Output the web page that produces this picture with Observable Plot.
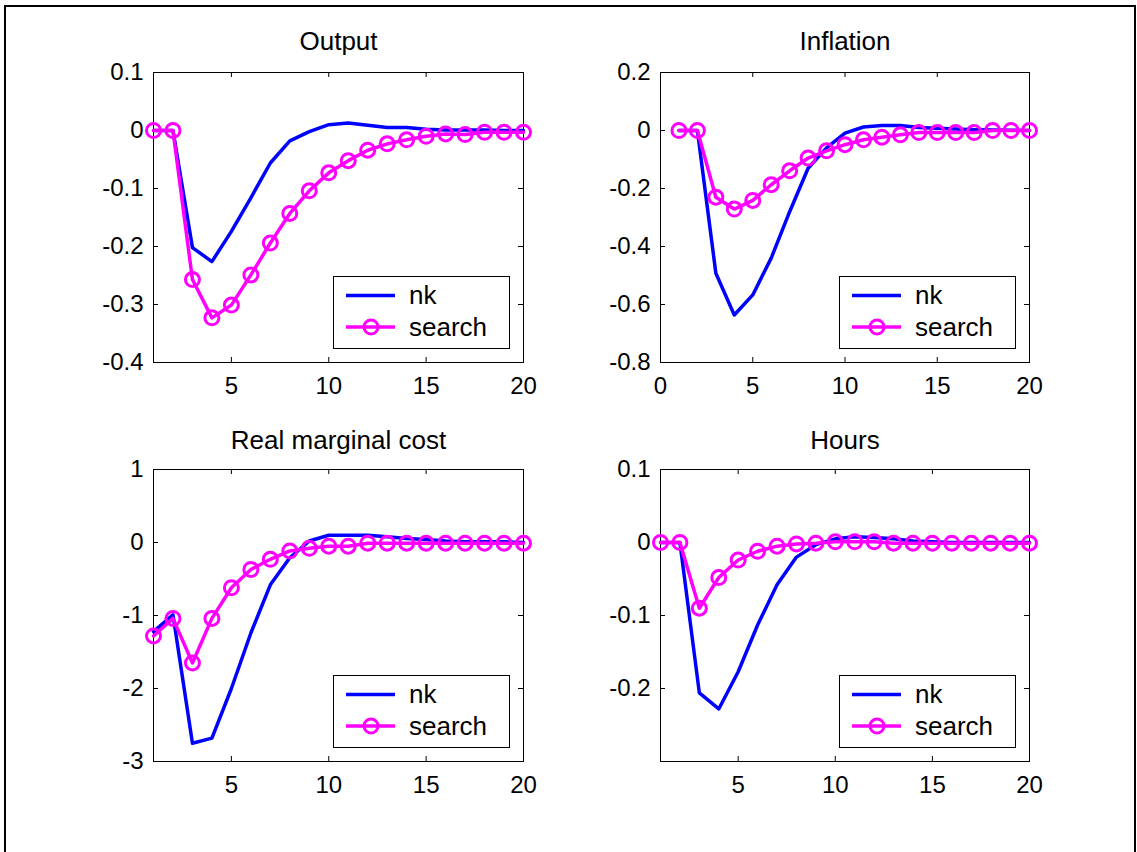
<!DOCTYPE html>
<html><head><meta charset="utf-8">
<script src="https://cdn.jsdelivr.net/npm/d3@7"></script>
<script src="https://cdn.jsdelivr.net/npm/@observablehq/plot@0.6"></script>
<style>
html,body{margin:0;padding:0;background:#fff;overflow:hidden;}
#fig{position:relative;width:1137px;height:852px;overflow:hidden;font-family:"Liberation Sans",Arial,sans-serif;}
#border{position:absolute;left:4px;top:5px;width:1132px;height:900px;border:2px solid #000;box-sizing:border-box;}
.panel,.legend{position:absolute;}
</style></head>
<body><div id="fig"><div id="border"></div></div>
<script>
// ---- data ----
const periods = [1,2,3,4,5,6,7,8,9,10,11,12,13,14,15,16,17,18,19,20];

const outputNK     = [0,0,-0.202,-0.226,-0.174,-0.116,-0.056,-0.018,-0.002,0.010,0.013,0.009,0.005,0.005,0.002,0.001,0.001,0.001,0.000,0.000];
const outputSearch = [0,0,-0.257,-0.323,-0.301,-0.249,-0.194,-0.143,-0.104,-0.073,-0.052,-0.034,-0.023,-0.016,-0.010,-0.006,-0.007,-0.003,-0.003,-0.003];

const inflationNK     = [0,0,-0.492,-0.636,-0.567,-0.44,-0.28,-0.13,-0.06,-0.009,0.012,0.017,0.017,0.010,0.008,0.005,0.003,0.002,0.001,0.000];
const inflationSearch = [0,0,-0.230,-0.271,-0.241,-0.187,-0.139,-0.095,-0.070,-0.049,-0.032,-0.023,-0.015,-0.007,-0.007,-0.007,-0.007,0.000,0.000,0.000];

const rmcNK     = [-1.22,-0.99,-2.75,-2.68,-2.00,-1.24,-0.58,-0.21,0.02,0.10,0.10,0.10,0.08,0.055,0.04,0.02,0.01,0.01,0.01,0.00];
const rmcSearch = [-1.28,-1.04,-1.65,-1.04,-0.62,-0.37,-0.23,-0.115,-0.08,-0.05,-0.05,-0.01,-0.01,-0.01,-0.01,-0.01,-0.01,-0.01,-0.01,-0.01];

const hoursNK     = [0,0,-0.206,-0.228,-0.177,-0.113,-0.058,-0.020,-0.003,0.005,0.008,0.007,0.005,0.002,0.001,0.000,0.000,0.000,0.000,0.000];
const hoursSearch = [0,0,-0.090,-0.048,-0.024,-0.012,-0.005,-0.002,-0.001,0.001,0.001,0.001,-0.001,-0.001,-0.001,-0.001,-0.001,-0.001,-0.001,-0.001];

const titles = ["Output","Inflation","Real marginal cost","Hours"];
const seriesNames = ["nk","search"];

const xTicksA = [5,10,15,20];
const xTicksB = [0,5,10,15,20];
const yTicksOutput = [-0.4,-0.3,-0.2,-0.1,0,0.1];
const yTicksInflation = [-0.8,-0.6,-0.4,-0.2,0,0.2];
const yTicksRmc = [-3,-2,-1,0,1];
const yTicksHours = [-0.2,-0.1,0,0.1];

const xDomainA = [1,20];
const xDomainB = [0,20];
const yDomainOutput = [-0.4,0.1];
const yDomainInflation = [-0.8,0.2];
const yDomainRmc = [-3,1];
const yDomainHours = [-0.3,0.1];

// ---- layout ----
const BLUE = "#0000ff", MAGENTA = "#ff00ff";
const ML = 80, MR = 30, MT = 50, MB = 50;
const panels = [
  {title: titles[0], nk: outputNK, search: outputSearch, xDomain: xDomainA, xTicks: xTicksA, yDomain: yDomainOutput, yTicks: yTicksOutput, fx: 153, fy: 72, fw: 370, fh: 290, tdy: -31},
  {title: titles[1], nk: inflationNK, search: inflationSearch, xDomain: xDomainB, xTicks: xTicksB, yDomain: yDomainInflation, yTicks: yTicksInflation, fx: 660, fy: 72, fw: 369, fh: 290, tdy: -31},
  {title: titles[2], nk: rmcNK, search: rmcSearch, xDomain: xDomainA, xTicks: xTicksA, yDomain: yDomainRmc, yTicks: yTicksRmc, fx: 153, fy: 469, fw: 370, fh: 292, tdy: -29},
  {title: titles[3], nk: hoursNK, search: hoursSearch, xDomain: xDomainA, xTicks: xTicksA, yDomain: yDomainHours, yTicks: yTicksHours, fx: 660, fy: 469, fw: 369, fh: 292, tdy: -29}
];

const fig = document.getElementById("fig");
const fmt = d => String(d);
const FONT = "'Liberation Sans', Arial, sans-serif";

for (const p of panels) {
  const data = periods.map((t, i) => ({t, nk: p.nk[i], search: p.search[i]}));
  const chart = Plot.plot({
    width: ML + p.fw + MR,
    height: MT + p.fh + MB,
    marginLeft: ML, marginRight: MR, marginTop: MT, marginBottom: MB,
    style: {fontFamily: FONT, fontSize: "24px", color: "#000", background: "transparent", overflow: "visible"},
    x: {domain: p.xDomain, label: null},
    y: {domain: p.yDomain, label: null},
    marks: [
      Plot.frame({stroke: "#000", strokeWidth: 1}),
      // inward tick marks on all four sides
      Plot.tickX(p.xTicks, {x: d => d, stroke: "#000", strokeWidth: 1, insetTop: p.fh - 5}),
      Plot.tickX(p.xTicks, {x: d => d, stroke: "#000", strokeWidth: 1, insetBottom: p.fh - 5}),
      Plot.tickY(p.yTicks, {y: d => d, stroke: "#000", strokeWidth: 1, insetRight: p.fw - 5}),
      Plot.tickY(p.yTicks, {y: d => d, stroke: "#000", strokeWidth: 1, insetLeft: p.fw - 5}),
      Plot.axisX({anchor: "bottom", ticks: p.xTicks, tickSize: 0, tickPadding: 14, tickFormat: fmt, label: null, fontSize: 24}),
      Plot.axisY({anchor: "left", ticks: p.yTicks, tickSize: 0, tickPadding: 10, tickFormat: fmt, label: null, fontSize: 24}),
      Plot.line(data, {x: "t", y: "nk", stroke: BLUE, strokeWidth: 3.5}),
      Plot.line(data, {x: "t", y: "search", stroke: MAGENTA, strokeWidth: 3.5}),
      Plot.dot(data, {x: "t", y: "search", r: 7, stroke: MAGENTA, strokeWidth: 3, fill: "none"}),
      Plot.text([p.title], {frameAnchor: "top", dy: p.tdy, text: d => d, lineAnchor: "middle", fontSize: 26, fill: "#000"})
    ]
  });
  chart.classList.add("panel");
  chart.style.left = (p.fx - ML) + "px";
  chart.style.top = (p.fy - MT) + "px";
  fig.appendChild(chart);

  // legend box (bottom-right inside the axes)
  const LW = 176, LH = 72;
  const lg = d3.create("svg").attr("class", "legend")
    .attr("width", LW + 2).attr("height", LH + 2)
    .style("left", (p.fx + p.fw - 14 - LW) + "px")
    .style("top", (p.fy + p.fh - 14 - LH) + "px");
  lg.append("rect").attr("x", 0.5).attr("y", 0.5).attr("width", LW).attr("height", LH)
    .attr("fill", "#fff").attr("stroke", "#000").attr("stroke-width", 1);
  const rows = [{name: seriesNames[0], color: BLUE, marker: false, cy: 19.5, base: 28},
                {name: seriesNames[1], color: MAGENTA, marker: true, cy: 51, base: 60}];
  for (const r of rows) {
    lg.append("line").attr("x1", 13).attr("x2", 62).attr("y1", r.cy).attr("y2", r.cy)
      .attr("stroke", r.color).attr("stroke-width", 3.5);
    if (r.marker) lg.append("circle").attr("cx", 38).attr("cy", r.cy).attr("r", 7)
      .attr("fill", "none").attr("stroke", r.color).attr("stroke-width", 3);
    lg.append("text").attr("x", 76).attr("y", r.base).text(r.name)
      .attr("font-family", FONT).attr("font-size", 26).attr("fill", "#000");
  }
  fig.appendChild(lg.node());
}
</script></body></html>
